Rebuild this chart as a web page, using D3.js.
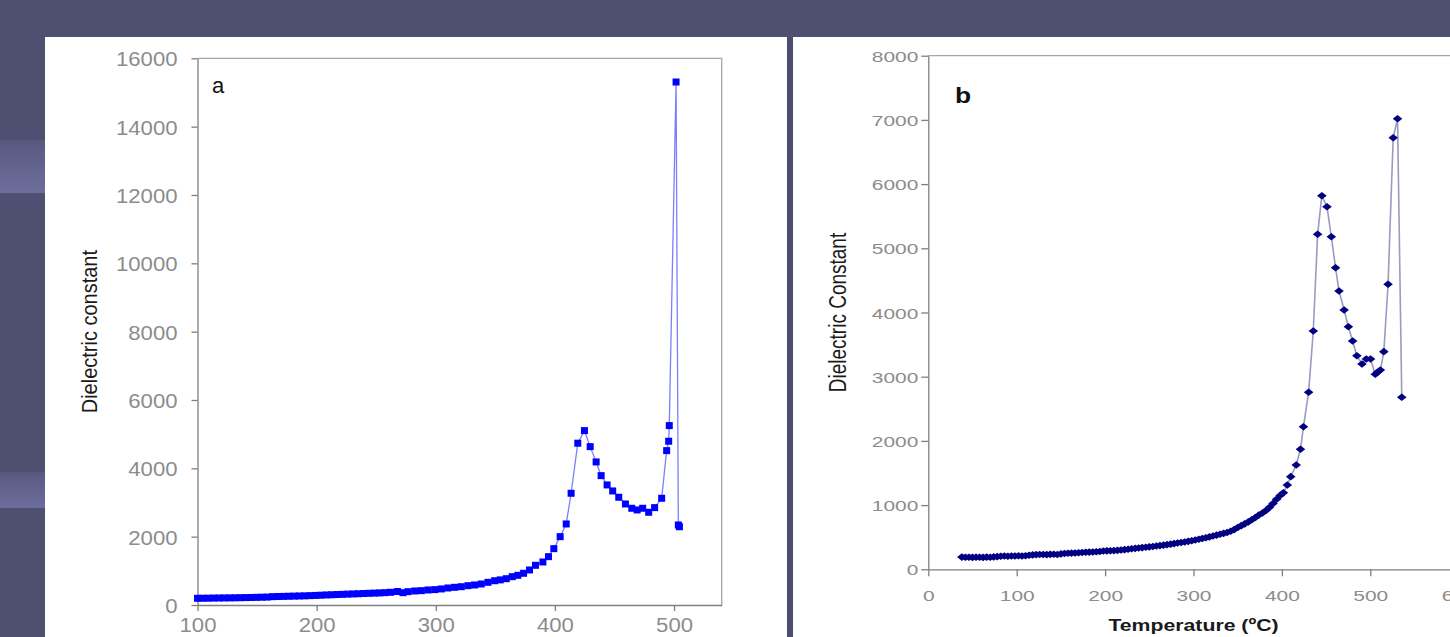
<!DOCTYPE html>
<html><head><meta charset="utf-8">
<script src="https://cdn.jsdelivr.net/npm/d3@7/dist/d3.min.js"></script>
<style>html,body{margin:0;padding:0;background:#4f4f72;overflow:hidden}svg{display:block}</style>
</head><body><svg id="c" width="1450" height="637"></svg>
<script>
// ---- Data: panel a ----
const tempA = [100,104.5,109,113.5,118,122.5,127,131.5,136,140.5,145,149.5,154,158.5,163,167.5,172,176.5,181,185.5,190,194.5,199,203.5,208,212.5,217,221.5,226,230.5,235,239.5,244,248.5,253,257.5,262,267.9,272.5,276.7,282.3,287.9,293.5,299.1,304.7,310.2,315.8,321.4,327,332.6,338.2,343.8,349.4,354.1,359.2,364.2,368.9,373.7,378.7,383.7,389.9,394.6,399.1,404.4,409.5,413.6,419.2,424.8,429.6,434.6,438.8,443.8,448.5,453.6,459.2,464.5,469,473.7,478.7,483.7,489.6,493.8,495.5,496,501.7,503.6,504.5];
const dielA = [196,198,200,203,205,207,209,211,214,217,220,224,228,232,244,248,252,256,260,264,268,274,280,287,294,300,306,312,318,324,330,336,342,348,354,362,372,395,360,390,410,420,440,450,470,498,518,536,566,586,615,664,710,735,770,829,869,928,1025,1162,1259,1415,1649,2000,2372,3270,4735,5104,4635,4187,3786,3514,3338,3153,2957,2831,2782,2831,2714,2850,3124,4518,4793,5250,15306,2343,2290];
const xTicksA = [100,200,300,400,500];
const yTicksA = [0,2000,4000,6000,8000,10000,12000,14000,16000];

// ---- Data: panel b ----
const tempB = [38,42,46,50,54,58,62,66,70,74,78,82,86,90,94,98,102,106,110,114,118,122,126,130,134,138,142,146,150,154,158,162,166,170,174,178,182,186,190,194,198,202,206,210,214,218,222,226,230,234,238,242,246,250,254,258,262,266,270,274,278,282,286,290,294,298,302,306,310,314,318,322,326,330,334,338,342,346,350,354,358,362,366,370,374,378,382,386,390,394,398,401.7,406.1,410,416.2,421,424.4,430.2,435.5,440.4,445.2,451,455.9,460.7,464.6,470.4,475.2,480,484.8,490.6,495.5,500.3,505.6,508,511.4,515.3,520.1,525.9,530.8,535.6];
const dielB = [190,188,187,186,188,187,185,190,188,193,197,203,206,204,208,206,210,208,212,218,224,228,230,231,229,233,235,231,240,246,250,252,255,257,262,266,268,270,274,278,284,287,289,291,295,300,306,313,320,326,332,338,344,350,356,362,369,376,384,392,400,409,418,426,435,445,456,468,480,492,505,518,532,546,560,574,592,618,650,680,708,738,772,808,845,878,915,965,1025,1090,1150,1193,1313,1443,1625,1869,2221,2757,3712,5218,5819,5648,5181,4698,4335,4039,3779,3556,3327,3198,3276,3276,3037,3068,3104,3390,4439,6723,7019,2679];
const xTicksB = [0,100,200,300,400,500,600];
const yTicksB = [0,1000,2000,3000,4000,5000,6000,7000,8000];

const FONT = "'Liberation Sans', Arial, Helvetica, sans-serif";
const svg = d3.select("#c");

// ---- Slide background ----
const defs = svg.append("defs");
const gr = defs.append("linearGradient").attr("id","band").attr("x1",0).attr("y1",0).attr("x2",0).attr("y2",1);
gr.append("stop").attr("offset","0%").attr("stop-color","#58587f");
gr.append("stop").attr("offset","100%").attr("stop-color","#6e6e9e");
svg.append("rect").attr("x",0).attr("y",0).attr("width",1450).attr("height",637).attr("fill","#4f4f72");
svg.append("rect").attr("x",0).attr("y",140).attr("width",45).attr("height",53).attr("fill","url(#band)");
svg.append("rect").attr("x",0).attr("y",472).attr("width",45).attr("height",36).attr("fill","url(#band)");
svg.append("rect").attr("x",45).attr("y",37).attr("width",742).attr("height",600).attr("fill","#ffffff");
svg.append("rect").attr("x",787).attr("y",37).attr("width",6).attr("height",600).attr("fill","#4c4c70");
svg.append("rect").attr("x",793).attr("y",37).attr("width",657).attr("height",600).attr("fill","#ffffff");

function drawAxes(g, x, y, xt, yt, o) {
  const ax = g.append("g").attr("transform",`translate(0,${y.range()[0]})`)
    .call(d3.axisBottom(x).tickValues(xt).tickSize(o.tick).tickSizeOuter(0).tickFormat(d3.format("d")));
  const ay = g.append("g").attr("transform",`translate(${x.range()[0]},0)`)
    .call(d3.axisLeft(y).tickValues(yt).tickSize(o.tick).tickSizeOuter(0).tickFormat(d3.format("d")));
  [ax, ay].forEach(a => {
    a.select(".domain").attr("stroke","#7f7f7f").attr("stroke-width",1.3);
    a.selectAll(".tick line").attr("stroke","#7f7f7f").attr("stroke-width",1.3);
    a.selectAll("text").attr("fill","#8c8c8c").style("font-family",FONT).style("font-size",o.fs+"px");
  });
  ax.selectAll("text").attr("y",0).attr("dy",0)
    .attr("transform",`translate(0,${o.xoff}) scale(${o.sx},1)`);
  ay.selectAll("text").attr("x",0).attr("dy","0.36em")
    .attr("transform",`translate(${-o.yoff},0) scale(${o.sx},1)`);
}

// ---- Panel a ----
const xA = d3.scaleLinear().domain([100,540]).range([197.5,721.7]);
const yA = d3.scaleLinear().domain([0,16000]).range([605,58.3]);
const gA = svg.append("g");
gA.append("path").attr("d",`M${xA(100)},${yA(16000)}H${xA(540)}V${yA(0)}`)
  .attr("fill","none").attr("stroke","#a6a6a6").attr("stroke-width",1.3);
drawAxes(gA, xA, yA, xTicksA, yTicksA, {tick:6, fs:20.5, sx:1.08, xoff:27, yoff:20});
const ptsA = tempA.map((t,i)=>[t, dielA[i]]);
gA.append("path").datum(ptsA)
  .attr("d", d3.line().x(d=>xA(d[0])).y(d=>yA(d[1])))
  .attr("fill","none").attr("stroke","#7d7dff").attr("stroke-width",1.3);
gA.selectAll("rect.m").data(ptsA).join("rect").attr("class","m")
  .attr("x",d=>xA(d[0])-3.5).attr("y",d=>yA(d[1])-3.5).attr("width",7).attr("height",7)
  .attr("fill","#0000ff");
gA.append("text").attr("x",212).attr("y",93.3).text("a")
  .style("font-family",FONT).style("font-size","22px").attr("fill","#111");
gA.append("text").attr("transform",`translate(97,${(yA(0)+yA(16000))/2}) rotate(-90) scale(1,1.08)`)
  .attr("text-anchor","middle").text("Dielectric constant")
  .style("font-family",FONT).style("font-size","20px").attr("fill","#1a1a1a");

// ---- Panel b ----
const xB = d3.scaleLinear().domain([0,600]).range([928.3,1458.7]);
const yB = d3.scaleLinear().domain([0,8000]).range([569.3,55.7]);
const gB = svg.append("g");
gB.append("path").attr("d",`M${xB(0)},${yB(8000)}H${xB(600)}V${yB(0)}`)
  .attr("fill","none").attr("stroke","#a6a6a6").attr("stroke-width",1.3);
drawAxes(gB, xB, yB, xTicksB, yTicksB, {tick:7, fs:15.5, sx:1.35, xoff:31.4, yoff:10});
const ptsB = tempB.map((t,i)=>[t, dielB[i]]);
gB.append("path").datum(ptsB)
  .attr("d", d3.line().x(d=>xB(d[0])).y(d=>yB(d[1])))
  .attr("fill","none").attr("stroke","#9a9ac4").attr("stroke-width",1.6);
gB.selectAll("path.m").data(ptsB).join("path").attr("class","m")
  .attr("d",d=>{const cx=xB(d[0]), cy=yB(d[1]); return `M${cx-4.8},${cy}L${cx},${cy-3.8}L${cx+4.8},${cy}L${cx},${cy+3.8}Z`;})
  .attr("fill","#000080");
gB.append("text").attr("transform","translate(955,103.3) scale(1.2,1)").text("b")
  .style("font-family",FONT).style("font-size","22px").style("font-weight","bold").attr("fill","#111");
gB.append("text").attr("transform",`translate(846,${(yB(0)+yB(8000))/2}) rotate(-90) scale(1,1.3)`)
  .attr("text-anchor","middle").text("Dielectric Constant")
  .style("font-family",FONT).style("font-size","19px").attr("fill","#1a1a1a");
gB.append("text").attr("transform",`translate(${(xB(0)+xB(600))/2},630.7) scale(1.25,1)`)
  .attr("text-anchor","middle").text("Temperature (ºC)")
  .style("font-family",FONT).style("font-size","17px").style("font-weight","bold").attr("fill","#1a1a1a");
</script></body></html>
